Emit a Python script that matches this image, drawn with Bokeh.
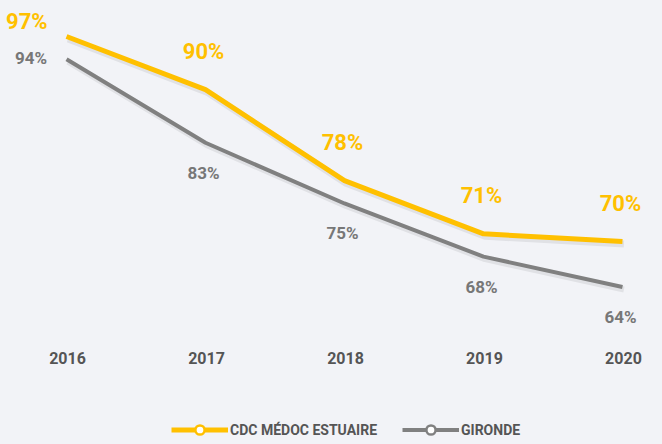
from bokeh.plotting import figure
from bokeh.models import ColumnDataSource, Range1d, Legend, LegendItem, CDSView, IndexFilter
from bokeh.core.properties import value
from bokeh.embed import file_html
from bokeh.resources import INLINE

# ---- data ----
years = [2016, 2017, 2018, 2019, 2020]
year_labels = ["2016", "2017", "2018", "2019", "2020"]
cdc_values = [97, 90, 78, 71, 70]
gironde_values = [94, 83, 75, 68, 64]
series_names = ["CDC MÉDOC ESTUAIRE", "GIRONDE"]

# ---- style ----
W, H = 662, 444
X0, X1 = 2015.525, 2020.288
Y0, Y1 = 43.245, 101.743
BG = "#f2f3f7"
YELLOW = "#ffc000"
GRAY = "#808080"
GRAY_TXT = "#777777"
DARK_TXT = "#555555"
FONT = "Roboto"
PX_Y = (Y1 - Y0) / H   # data units per pixel (vertical)
PX_X = (X1 - X0) / W

p = figure(width=W, height=H, x_range=Range1d(X0, X1), y_range=Range1d(Y0, Y1),
           output_backend="svg", toolbar_location=None, min_border=0,
           background_fill_color=BG, border_fill_color=BG, outline_line_color=None)
p.axis.visible = False
p.grid.visible = False

cdc_src = ColumnDataSource(dict(x=years, y=cdc_values, lab=[f"{v}%" for v in cdc_values]))
gir_src = ColumnDataSource(dict(x=years, y=gironde_values, lab=[f"{v}%" for v in gironde_values]))

# soft drop shadows under the lines
for vals, lw in ((gironde_values, 6), (cdc_values, 7)):
    p.line([x + 1.5 * PX_X for x in years], [v - 2.5 * PX_Y for v in vals],
           line_color="#000000", line_alpha=0.07, line_width=lw, line_join="round")

gl = p.line("x", "y", source=gir_src, line_color=GRAY, line_width=4, line_join="round")
yl = p.line("x", "y", source=cdc_src, line_color=YELLOW, line_width=5, line_join="round")

gm = p.scatter("x", "y", source=gir_src, size=9, marker="circle", fill_color="white",
               line_color=GRAY, line_width=2.5, visible=False)
ym = p.scatter("x", "y", source=cdc_src, size=9, marker="circle", fill_color="white",
               line_color=YELLOW, line_width=2.5, visible=False)

# value labels (first point placed to the left, others above/below)
rest_idx = list(range(1, len(years)))
p.text("x", "y", text="lab", source=cdc_src, view=CDSView(filter=IndexFilter([0])),
       text_align="right", text_baseline="middle", x_offset=-19, y_offset=-14.5,
       text_font=value(FONT), text_font_size="22px", text_font_style="bold", text_color=YELLOW)
p.text("x", "y", text="lab", source=cdc_src, view=CDSView(filter=IndexFilter(rest_idx)),
       text_align="center", text_baseline="middle", x_offset=-2, y_offset=-38,
       text_font=value(FONT), text_font_size="22px", text_font_style="bold", text_color=YELLOW)
p.text("x", "y", text="lab", source=gir_src, view=CDSView(filter=IndexFilter([0])),
       text_align="right", text_baseline="middle", x_offset=-19.5, y_offset=-1,
       text_font=value(FONT), text_font_size="17px", text_font_style="bold", text_color=GRAY_TXT)
p.text("x", "y", text="lab", source=gir_src, view=CDSView(filter=IndexFilter(rest_idx)),
       text_align="center", text_baseline="middle", x_offset=-2, y_offset=30,
       text_font=value(FONT), text_font_size="17px", text_font_style="bold", text_color=GRAY_TXT)

# year labels (x axis)
year_y = Y0 + (H - 357) * PX_Y
p.text(x=years, y=[year_y] * len(years), text=year_labels, text_align="center",
       text_baseline="middle", x_offset=1, text_font=value(FONT), text_font_size="16px",
       text_font_style="bold", text_color=DARK_TXT)

legend = Legend(items=[LegendItem(label=series_names[0], renderers=[yl, ym]),
                       LegendItem(label=series_names[1], renderers=[gl, gm])],
                orientation="horizontal", location=(171, 3), padding=0, margin=0,
                spacing=25, label_standoff=2, glyph_width=57, glyph_height=23, label_height=14,
                label_text_font=FONT, label_text_font_size="14px", label_text_font_style="bold",
                label_text_color=DARK_TXT, border_line_color=None, background_fill_alpha=0)
p.add_layout(legend)

html = file_html(p, INLINE)
html = html.replace("</head>", "<style>html,body{background:%s;}</style></head>" % BG, 1)
open("out.html", "w").write(html)
